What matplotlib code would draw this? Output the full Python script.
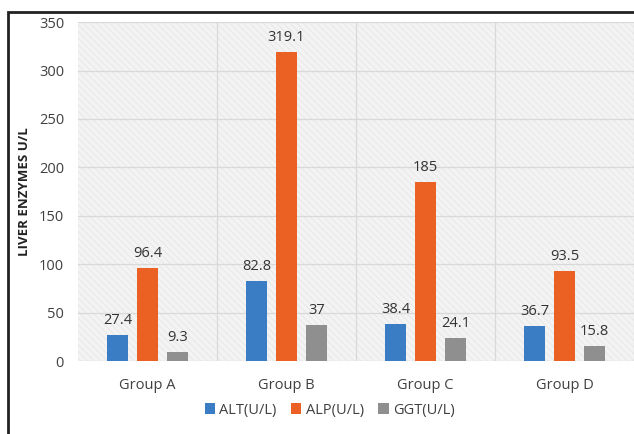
import numpy as np
import matplotlib.pyplot as plt
from matplotlib.patches import Rectangle

groups = ["Group A", "Group B", "Group C", "Group D"]
alt = [27.4, 82.8, 38.4, 36.7]
alp = [96.4, 319.1, 185, 93.5]
ggt = [9.3, 37, 24.1, 15.8]
series_names = ["ALT(U/L)", "ALP(U/L)", "GGT(U/L)"]
colors = ["#3a7dc4", "#eb6123", "#8f8f8f"]
labels_txt = [["27.4", "82.8", "38.4", "36.7"],
              ["96.4", "319.1", "185", "93.5"],
              ["9.3", "37", "24.1", "15.8"]]

plt.rcParams['font.family'] = ['Open Sans', 'DejaVu Sans']
plt.rcParams['hatch.color'] = '#e4e4e4'
plt.rcParams['hatch.linewidth'] = 0.5

fig = plt.figure(figsize=(6.34, 4.34), dpi=100)
ax = fig.add_axes([0.123, 0.168, 0.877, 0.781])

# hatched background
ax.add_patch(Rectangle((0, 0), 1, 1, transform=ax.transAxes, facecolor='#f3f3f3',
                       hatch='\\\\\\\\\\', edgecolor='#e4e4e4', linewidth=0, zorder=0))

x = np.arange(len(groups))
width = 0.151
step = 0.216
for i, vals in enumerate([alt, alp, ggt]):
    bars = ax.bar(x + (i - 1) * step, vals, width, color=colors[i],
                  label=series_names[i], zorder=3)
    ax.bar_label(bars, labels=labels_txt[i], padding=5, fontsize=10.5, color='#333333')

ax.set_xlim(-0.5, 3.5)
ax.set_ylim(0, 350)
ax.set_yticks(range(0, 351, 50))
ax.set_xticks(x)
ax.set_xticklabels(groups)
ax.set_xticks([0.5, 1.5, 2.5, 3.5], minor=True)
ax.grid(axis='y', color='#d9d9d9', linewidth=0.9, zorder=1)
ax.grid(axis='x', which='minor', color='#d9d9d9', linewidth=0.9, zorder=1)
ax.tick_params(axis='both', which='both', length=0, labelsize=10.5, labelcolor='#404040')
ax.tick_params(axis='x', pad=12)
ax.tick_params(axis='y', pad=10)
for s in ax.spines.values():
    s.set_visible(False)
ax.set_axisbelow(True)
ax.set_ylabel("LIVER ENZYMES U/L", fontsize=9.5, fontweight='bold', color='#222222', labelpad=6)

fig.legend(loc='center', bbox_to_anchor=(0.52, 0.055), ncol=3, frameon=False,
           fontsize=10.5, handlelength=0.7, handleheight=0.7, handletextpad=0.3,
           columnspacing=1.0, labelcolor='#404040')

# outer frame
fig.add_artist(Rectangle((8 / 634, -0.1), 1.2, 1 - 12 / 434 + 0.1, transform=fig.transFigure,
                         fill=False, edgecolor='#222222', linewidth=2))

fig.savefig("out.png", dpi=100)
